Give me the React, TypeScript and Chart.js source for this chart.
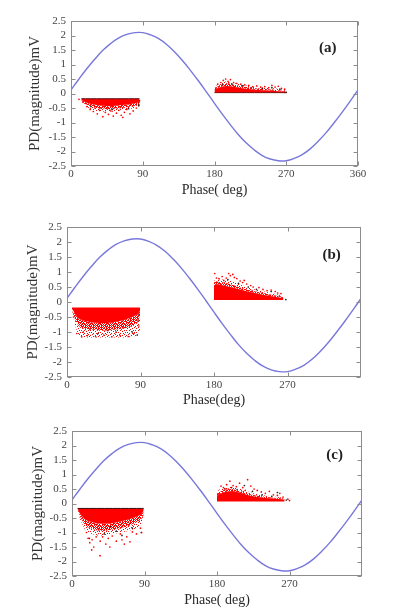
import React, { useEffect, useRef } from "react";
import { Chart, registerables } from "chart.js";
Chart.register(...registerables);

// ---------- data ----------
const phaseDeg = [0, 10, 20, 30, 40, 50, 60, 70, 80, 90, 100, 110, 120, 130, 140, 150, 160, 170, 180, 190, 200, 210, 220, 230, 240, 250, 260, 270, 280, 290, 300, 310, 320, 330, 340, 350, 360];
const sineMv = [0.12, 0.5, 0.86, 1.19, 1.49, 1.73, 1.92, 2.04, 2.1, 2.1, 2.02, 1.89, 1.69, 1.43, 1.13, 0.79, 0.43, 0.05, -0.34, -0.72, -1.08, -1.42, -1.71, -1.95, -2.14, -2.26, -2.32, -2.32, -2.24, -2.11, -1.91, -1.65, -1.35, -1.01, -0.65, -0.27, 0.12];

const yTicks = [-2.5, -2, -1.5, -1, -0.5, 0, 0.5, 1, 1.5, 2, 2.5];
const xTicksA = [0, 90, 180, 270, 360];
const xTicksBC = [0, 90, 180, 270];
const panelLetters = ["(a)", "(b)", "(c)"];
const letterX = [322, 324, 326];
const letterY = [1.57, 1.57, 1.67];
const yTitle = "PD(magnitude)mV";
const xTitles = ["Phase( deg)", "Phase(deg)", "Phase( deg)"];

// panel (a) negative cloud
const aNegX = [13, 18, 25, 32, 40, 48, 56, 64, 72, 80, 86];
const aNegTop = [-0.18, -0.18, -0.18, -0.18, -0.18, -0.18, -0.18, -0.18, -0.18, -0.18, -0.18];
const aNegSolid = [-0.22, -0.3, -0.36, -0.4, -0.42, -0.44, -0.42, -0.4, -0.38, -0.34, -0.3];
const aNegMed = [-0.24, -0.36, -0.45, -0.5, -0.52, -0.55, -0.52, -0.5, -0.46, -0.42, -0.36];
const aNegSparse = [-0.26, -0.42, -0.55, -0.6, -0.62, -0.64, -0.62, -0.58, -0.55, -0.5, -0.42];
const aNegRed = [[15, -0.3], [20, -0.45], [24, -0.55], [28, -0.62], [33, -0.7], [36, -0.58], [40, -0.8], [43, -0.65], [47, -0.72], [50, -0.6], [53, -0.78], [57, -0.68], [60, -0.58], [63, -0.75], [67, -0.65], [70, -0.55], [74, -0.7], [78, -0.6], [82, -0.5], [30, -0.5], [45, -0.52], [65, -0.82], [10, -0.2]];
const aNegBlack = [[25, -0.45], [38, -0.5], [52, -0.55], [62, -0.48], [72, -0.52], [85, -0.3], [85, -0.38], [85, -0.42], [86, -0.25]];

// panel (a) positive cloud
const aPosX = [180, 185, 190, 195, 200, 210, 220, 230, 240, 250, 260, 270];
const aPosBase = [0.03, 0.03, 0.03, 0.03, 0.03, 0.03, 0.03, 0.03, 0.03, 0.03, 0.03, 0.03];
const aPosSolid = [0.14, 0.2, 0.24, 0.26, 0.25, 0.2, 0.16, 0.13, 0.11, 0.1, 0.08, 0.06];
const aPosMed = [0.18, 0.26, 0.31, 0.34, 0.33, 0.27, 0.22, 0.18, 0.16, 0.14, 0.11, 0.08];
const aPosSparse = [0.22, 0.32, 0.38, 0.42, 0.4, 0.33, 0.28, 0.24, 0.21, 0.19, 0.16, 0.1];
const aPosRed = [[184, 0.32], [188, 0.38], [191, 0.45], [194, 0.5], [197, 0.42], [200, 0.48], [204, 0.38], [208, 0.35], [213, 0.32], [218, 0.3], [223, 0.28], [228, 0.24], [233, 0.26], [238, 0.22], [243, 0.24], [248, 0.2], [252, 0.28], [256, 0.22], [260, 0.25], [264, 0.18], [268, 0.15], [198, 0.36]];
const aPosBlack = [[190, 0.3], [202, 0.32], [215, 0.26], [226, 0.2], [240, 0.18], [252, 0.2], [262, 0.15], [270, 0.04], [268, 0.04]];

// panel (b) negative cloud
const bNegX = [6, 10, 14, 20, 30, 40, 50, 60, 70, 80, 86, 89.5];
const bNegTop = [-0.18, -0.18, -0.18, -0.18, -0.18, -0.18, -0.18, -0.18, -0.18, -0.18, -0.18, -0.18];
const bNegSolid = [-0.2, -0.4, -0.55, -0.62, -0.68, -0.7, -0.7, -0.66, -0.6, -0.5, -0.42, -0.3];
const bNegMed = [-0.22, -0.6, -0.8, -0.88, -0.92, -0.95, -0.95, -0.92, -0.88, -0.8, -0.7, -0.45];
const bNegSparse = [-0.25, -0.8, -1.1, -1.18, -1.18, -1.18, -1.18, -1.18, -1.18, -1.15, -1.12, -0.9];
const bNegRed = [[12, -1.05], [18, -1.16], [25, -1.12], [35, -1.15], [45, -1.1], [55, -1.16], [65, -1.12], [75, -1.15], [82, -1.05], [88, -0.8], [8, -0.5]];
const bNegBlack = [[20, -1.0], [28, -0.9], [38, -1.05], [50, -0.95], [60, -1.0], [70, -0.85], [80, -1.0], [86, -1.1], [87, -0.6], [88, -0.4]];

// panel (b) positive cloud
const bPosX = [180, 182, 190, 200, 210, 220, 230, 240, 250, 260, 265];
const bPosBase = [0.07, 0.07, 0.07, 0.07, 0.07, 0.07, 0.07, 0.07, 0.07, 0.07, 0.07];
const bPosSolid = [0.55, 0.6, 0.56, 0.5, 0.43, 0.36, 0.3, 0.24, 0.19, 0.15, 0.13];
const bPosMed = [0.65, 0.68, 0.66, 0.6, 0.5, 0.42, 0.36, 0.3, 0.24, 0.19, 0.16];
const bPosSparse = [0.7, 0.75, 0.75, 0.72, 0.6, 0.5, 0.42, 0.36, 0.3, 0.24, 0.2];
const bPosRed = [[183, 0.8], [186, 0.78], [190, 0.85], [195, 0.8], [198, 0.95], [200, 0.88], [203, 0.92], [205, 0.82], [208, 0.78], [212, 0.7], [215, 0.65], [220, 0.6], [225, 0.55], [228, 0.5], [235, 0.48], [240, 0.42], [245, 0.38], [250, 0.4], [255, 0.35], [258, 0.3], [262, 0.28], [181, 0.95], [192, 0.72], [217, 0.72]];
const bPosBlack = [[186, 0.62], [197, 0.75], [210, 0.62], [232, 0.42], [250, 0.35], [260, 0.2], [268, 0.08], [222, 0.5]];

// panel (c) negative cloud
const cNegX = [7, 10, 16, 20, 30, 40, 50, 60, 70, 80, 86, 89];
const cNegTop = [-0.17, -0.17, -0.17, -0.17, -0.17, -0.17, -0.17, -0.17, -0.17, -0.17, -0.17, -0.17];
const cNegSolid = [-0.2, -0.35, -0.55, -0.6, -0.68, -0.7, -0.68, -0.62, -0.55, -0.45, -0.38, -0.25];
const cNegMed = [-0.22, -0.45, -0.75, -0.82, -0.92, -0.95, -0.9, -0.85, -0.78, -0.65, -0.55, -0.35];
const cNegSparse = [-0.24, -0.55, -0.9, -1.0, -1.1, -1.1, -1.05, -1.0, -0.95, -0.85, -0.75, -0.45];
const cNegRed = [[20, -1.2], [22, -1.35], [25, -1.25], [27, -1.5], [30, -1.15], [24.4, -1.6], [34.8, -1.8], [35, -1.3], [38, -1.15], [42, -1.4], [47, -1.5], [45, -1.2], [50, -1.12], [55, -1.3], [60, -1.05], [62, -1.25], [68, -1.15], [72, -1.32], [75, -0.98], [80, -1.05], [85, -0.85], [86.5, -1.0], [18, -1.0], [65, -1.4]];
const cNegBlack = [[21.5, -1.2], [40, -1.05], [55, -0.95], [62, -1.1], [75, -0.85], [86, -1.0], [33, -0.9], [48, -0.8]];

// panel (c) positive cloud
const cPosX = [180, 183, 190, 199, 210, 220, 230, 240, 250, 260, 264];
const cPosBase = [0.07, 0.07, 0.07, 0.07, 0.07, 0.07, 0.07, 0.07, 0.07, 0.07, 0.07];
const cPosSolid = [0.25, 0.33, 0.4, 0.43, 0.36, 0.28, 0.22, 0.19, 0.17, 0.15, 0.13];
const cPosMed = [0.32, 0.4, 0.48, 0.5, 0.42, 0.33, 0.27, 0.23, 0.2, 0.18, 0.15];
const cPosSparse = [0.4, 0.48, 0.56, 0.58, 0.5, 0.4, 0.32, 0.28, 0.24, 0.21, 0.17];
const cPosRed = [[185, 0.6], [188, 0.55], [192, 0.65], [196, 0.77], [200, 0.62], [204, 0.58], [208, 0.7], [212, 0.55], [218, 0.82], [222, 0.6], [226, 0.5], [230, 0.45], [235, 0.4], [240, 0.35], [245, 0.42], [250, 0.3], [255, 0.28], [258, 0.35], [262, 0.22], [268, 0.15], [270, 0.1], [194, 0.5], [215, 0.45]];
const cPosBlack = [[190, 0.5], [198, 0.55], [205, 0.48], [214, 0.62], [224, 0.42], [236, 0.3], [248, 0.25], [266, 0.12], [255, 0.38]];

// ---------- layout / style ----------
const LAYOUT = [
  { top: 0, h: 200, l: 71, r: 358, t: 21, b: 166, yTitleX: 35, xTitleY: 190 },
  { top: 200, h: 210, l: 67, r: 361, t: 27, b: 177, yTitleX: 33, xTitleY: 200 },
  { top: 410, h: 204, l: 72, r: 362, t: 21, b: 166, yTitleX: 38, xTitleY: 190 },
];
const RED = "#ff0000";
const SERIF = '"Liberation Serif", "DejaVu Serif", serif';

// texture cells: 1 = red pixel, 2 = dark pixel
const MED_CELLS = [
  [1, 0, 1, 1, 0, 1, 0, 1],
  [0, 1, 1, 0, 1, 1, 1, 0],
  [1, 1, 0, 1, 0, 0, 1, 1],
  [1, 0, 1, 1, 1, 0, 1, 0],
  [0, 1, 1, 0, 1, 1, 0, 1],
  [1, 1, 0, 1, 0, 1, 1, 0],
  [0, 1, 1, 1, 0, 1, 0, 1],
  [1, 0, 1, 0, 1, 1, 1, 0],
];
const SPARSE_CELLS = [
  [1, 0, 0, 0, 0, 1, 0, 0, 0],
  [0, 0, 0, 1, 0, 0, 0, 0, 1],
  [0, 1, 0, 0, 0, 0, 1, 0, 0],
  [0, 0, 0, 0, 1, 0, 0, 0, 0],
  [1, 0, 0, 1, 0, 0, 0, 1, 0],
  [0, 0, 0, 0, 0, 1, 0, 0, 0],
  [0, 1, 0, 0, 0, 0, 0, 0, 1],
  [0, 0, 0, 1, 0, 0, 1, 0, 0],
  [0, 0, 1, 0, 0, 0, 0, 1, 0],
];

function makePattern(cells: number[][], color: string) {
  const c = document.createElement("canvas");
  c.width = cells[0].length;
  c.height = cells.length;
  const ctx = c.getContext("2d")!;
  cells.forEach((row, y) => row.forEach((v, x) => {
    if (v) { ctx.fillStyle = v === 2 ? "#333" : color; ctx.fillRect(x, y, 1, 1); }
  }));
  return ctx.createPattern(c, "repeat");
}

type Cloud = { x: number[]; base: number[]; bands: number[][]; red: number[][]; black: number[][]; edge: string | null };

const CLOUDS: Cloud[][] = [
  [
    { x: aNegX, base: aNegTop, bands: [aNegSolid, aNegMed, aNegSparse], red: aNegRed, black: aNegBlack, edge: "#5a1010" },
    { x: aPosX, base: aPosBase, bands: [aPosSolid, aPosMed, aPosSparse], red: aPosRed, black: aPosBlack, edge: "#7a1010" },
  ],
  [
    { x: bNegX, base: bNegTop, bands: [bNegSolid, bNegMed, bNegSparse], red: bNegRed, black: bNegBlack, edge: null },
    { x: bPosX, base: bPosBase, bands: [bPosSolid, bPosMed, bPosSparse], red: bPosRed, black: bPosBlack, edge: null },
  ],
  [
    { x: cNegX, base: cNegTop, bands: [cNegSolid, cNegMed, cNegSparse], red: cNegRed, black: cNegBlack, edge: "#3a0a0a" },
    { x: cPosX, base: cPosBase, bands: [cPosSolid, cPosMed, cPosSparse], red: cPosRed, black: cPosBlack, edge: null },
  ],
];

function cloudDatasets(c: Cloud, fills: any[]) {
  const mk = (ys: number[]) => c.x.map((x, i) => ({ x, y: ys[i] }));
  const ds: any[] = [];
  ds.push({
    data: mk(c.base), borderColor: c.edge || "rgba(0,0,0,0)", borderWidth: c.edge ? 1 : 0,
    pointRadius: 0, fill: false, tension: 0,
  });
  c.bands.forEach((b, k) => ds.push({
    data: mk(b), borderColor: "rgba(0,0,0,0)", borderWidth: 0, pointRadius: 0,
    fill: "-1", backgroundColor: fills[k], tension: 0,
  }));
  ds.push({
    data: c.red.map(([x, y]) => ({ x, y })), showLine: false, pointRadius: 0.85,
    pointBackgroundColor: RED, pointBorderWidth: 0, borderWidth: 0,
  });
  ds.push({
    data: c.black.map(([x, y]) => ({ x, y })), showLine: false, pointRadius: 0.85,
    pointBackgroundColor: "#222", pointBorderWidth: 0, borderWidth: 0,
  });
  return ds;
}

function buildConfig(i: number, fills: any[]): any {
  const L = LAYOUT[i];
  const xt = i === 0 ? xTicksA : xTicksBC;
  const frame = {
    id: "frame" + i,
    afterDatasetsDraw(chart: any) {
      const { ctx, chartArea: a, scales } = chart;
      ctx.save();
      ctx.strokeStyle = "#8c8c8c";
      ctx.lineWidth = 1;
      const l = Math.round(a.left) + 0.5, r = Math.round(a.right) - 0.5;
      const t = Math.round(a.top) + 0.5, b = Math.round(a.bottom) - 0.5;
      ctx.strokeRect(l, t, r - l, b - t);
      ctx.beginPath();
      yTicks.forEach((v) => {
        const y = Math.round(scales.y.getPixelForValue(v)) + 0.5;
        ctx.moveTo(l, y); ctx.lineTo(l + 4, y);
        ctx.moveTo(r, y); ctx.lineTo(r - 4, y);
      });
      xt.forEach((v) => {
        const x = Math.round(scales.x.getPixelForValue(v)) + 0.5;
        ctx.moveTo(x, b); ctx.lineTo(x, b - 4);
        ctx.moveTo(x, t); ctx.lineTo(x, t + 4);
      });
      ctx.stroke();
      ctx.fillStyle = "#222";
      ctx.font = "bold 15px " + SERIF;
      ctx.textAlign = "center";
      ctx.textBaseline = "middle";
      ctx.fillText(panelLetters[i], scales.x.getPixelForValue(letterX[i]), scales.y.getPixelForValue(letterY[i]));
      ctx.restore();
    },
  };
  const datasets: any[] = [
    {
      data: phaseDeg.map((x, k) => ({ x, y: sineMv[k] })), borderColor: "#7878dc", borderWidth: 1.4,
      pointRadius: 0, fill: false, tension: 0.4,
    },
  ];
  CLOUDS[i].forEach((c) => datasets.push(...cloudDatasets(c, fills)));
  return {
    type: "line",
    data: { datasets },
    plugins: [frame],
    options: {
      responsive: false,
      animation: false,
      events: [],
      layout: { padding: { left: 0, right: 396 - L.r, top: L.t, bottom: 0 } },
      plugins: { legend: { display: false }, tooltip: { enabled: false } },
      scales: {
        x: {
          type: "linear", min: 0, max: 360,
          afterBuildTicks: (s: any) => { s.ticks = xt.map((v) => ({ value: v })); },
          afterFit: (s: any) => { s.height = L.h - L.b; },
          grid: { display: false, drawTicks: false },
          border: { display: false },
          ticks: { font: { family: SERIF, size: 11 }, color: "#444", padding: 2, maxRotation: 0, autoSkip: false, callback: (v: any) => String(v) },
          title: { display: true, text: xTitles[i], font: { family: SERIF, size: 14 }, color: "#2a2a2a", padding: { top: 0, bottom: L.h - L.xTitleY - 8.4 } },
        },
        y: {
          type: "linear", min: -2.5, max: 2.5,
          afterBuildTicks: (s: any) => { s.ticks = yTicks.map((v) => ({ value: v })); },
          afterFit: (s: any) => { s.width = L.l; },
          grid: { display: false, drawTicks: false },
          border: { display: false },
          ticks: { font: { family: SERIF, size: 11 }, color: "#444", padding: 5, autoSkip: false, callback: (v: any) => String(v) },
          title: { display: true, text: yTitle, font: { family: SERIF, size: 15 }, color: "#333", padding: { top: L.yTitleX - 9, bottom: 0 } },
        },
      },
    },
  };
}

export default function App() {
  const r0 = useRef<HTMLCanvasElement>(null);
  const r1 = useRef<HTMLCanvasElement>(null);
  const r2 = useRef<HTMLCanvasElement>(null);
  const refs = [r0, r1, r2];
  useEffect(() => {
    const fills = [RED, makePattern(MED_CELLS, RED), makePattern(SPARSE_CELLS, RED)];
    const charts = refs.map((r, i) => new Chart(r.current as HTMLCanvasElement, buildConfig(i, fills)));
    return () => charts.forEach((c) => c.destroy());
  }, []);
  return (
    <div style={{ position: "absolute", left: 0, top: 0, width: 396, height: 614, background: "#fff" }}>
      {LAYOUT.map((L, i) => (
        <canvas
          key={i}
          ref={refs[i]}
          width={396}
          height={L.h}
          style={{ position: "absolute", left: 0, top: L.top, width: 396, height: L.h }}
        />
      ))}
    </div>
  );
}
